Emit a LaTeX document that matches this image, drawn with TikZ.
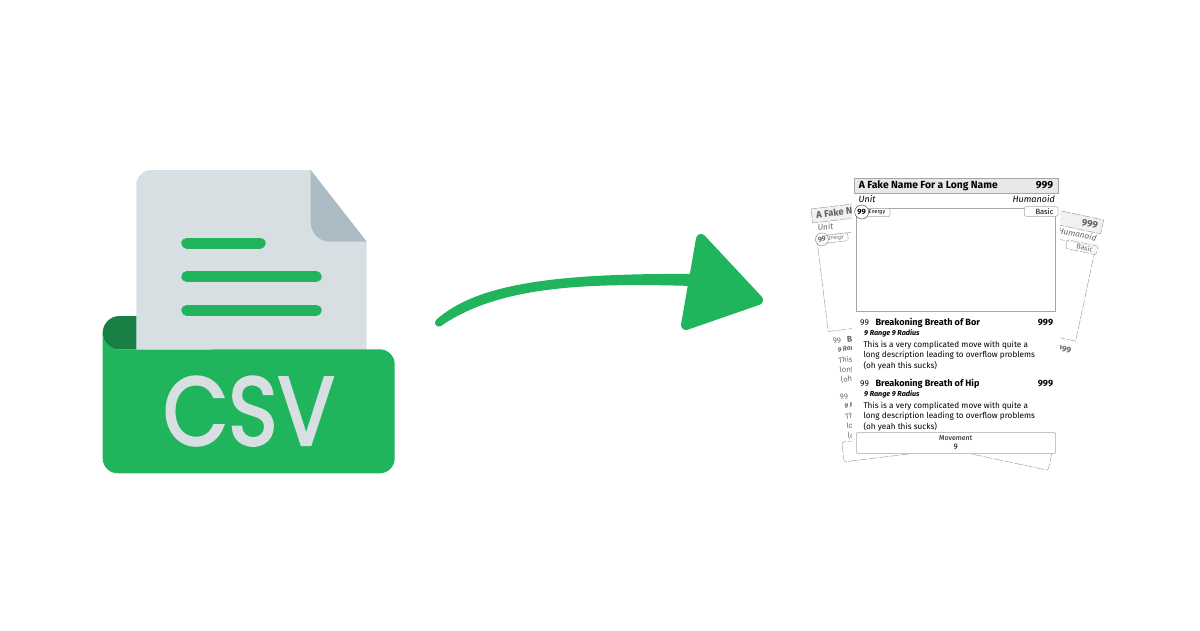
\documentclass[tikz,border=0pt]{standalone}
\usepackage{fontspec}
\setmainfont{Fira Sans}
\newfontfamily\csvfont[FakeBold=2.5]{Poppins}
\definecolor{csvgreen}{HTML}{20B55C}
\definecolor{csvdark}{HTML}{197F45}
\definecolor{pagegray}{HTML}{D8DFE3}
\definecolor{foldgray}{HTML}{ADBBC5}
\tikzset{
  lbl/.style={inner sep=0pt,anchor=base west},
  lblr/.style={inner sep=0pt,anchor=base east},
  cardline/.style={draw=black!35,line width=.5pt},
  tag/.style={cardline,rounded corners=2pt,fill=white},
  bar/.style={line width=11pt,line cap=round,csvgreen}
}
% one card, origin at the top left of its header
\newcommand{\cardbody}[1]{
  \draw [cardline,fill=black!9] (0,0) rectangle (204,15.3);
  \node [lbl,font=\bfseries\fontsize{10.3}{12}\selectfont] (#1name) at (4.7,10.8) {A Fake Name For a Long Name};
  \node [lblr,font=\bfseries\fontsize{10.3}{12}\selectfont] (#1cost) at (199.3,10.8) {999};
  \node [lbl,font=\itshape\fontsize{9}{11}\selectfont] (#1unit) at (4.5,24.2) {Unit};
  \node [lblr,font=\itshape\fontsize{9}{11}\selectfont] (#1kind) at (201,24.2) {Humanoid};
  \draw [cardline] (2.3,30.3) rectangle (201.7,133.7);
  \draw [tag] (7,30.3) rectangle (36,38.7);
  \node [inner sep=0pt,font=\itshape\fontsize{5.5}{6}\selectfont] (#1energy) at (23,34.5) {Energy};
  \node [circle,draw=black!75,fill=white,line width=.45pt,minimum size=14pt,inner sep=0pt,font=\bfseries\fontsize{7.6}{9}\selectfont] (#1pips) at (7.7,34) {99};
  \draw [tag] (170.3,28.7) rectangle (204,38.3);
  \node [inner sep=0pt,font=\fontsize{7.6}{9}\selectfont] (#1basic) at (190.5,33.5) {Basic};
  \foreach \i/\dy/\mv in {a/0/Bor,b/61/Hip} {
    \node [lbl,font=\fontsize{8.4}{10}\selectfont] (#1pts\i) at (6,147.5+\dy) {99};
    \node [lbl,font=\bfseries\fontsize{9.1}{10}\selectfont] (#1move\i) at (21.3,147.5+\dy) {Breakoning Breath of \mv};
    \node [lblr,font=\bfseries\fontsize{9.1}{10}\selectfont] (#1dmg\i) at (199.3,147.5+\dy) {999};
    \node [lbl,font=\bfseries\itshape\fontsize{7.2}{8}\selectfont] (#1rng\i) at (10,157+\dy) {9 Range 9 Radius};
    \node [inner sep=0pt,anchor=north west,align=left,font=\fontsize{8.2}{10.35}\selectfont] (#1txt\i) at (9.3,162.7+\dy) {This is a very complicated move with quite a\\long description leading to overflow problems\\(oh yeah this sucks)};
  }
  \draw [tag] (2.3,254.3) rectangle (201.7,275.7);
  \node [inner sep=0pt,anchor=base,font=\fontsize{7}{8}\selectfont] (#1mvlabel) at (101.7,262) {Movement};
  \node [inner sep=0pt,anchor=base,font=\fontsize{8}{9}\selectfont] (#1mvvalue) at (101.7,271.5) {9};
}
\begin{document}
\begin{tikzpicture}[x=1pt,y=-1pt]
\useasboundingbox (0,0) rectangle (1200,630);
% csv file
\draw [fill=pagegray,draw=none] (136.3,349.5) -- (136.3,185) arc [start angle=180,end angle=270,radius=15] -- (310.7,170) -- (366.7,241.7) -- (366.7,349.5) -- cycle;
\draw [fill=foldgray,draw=none] (310.7,170) -- (366.7,241.7) -- (330,241.7) arc [start angle=90,end angle=180,radius=19.3] -- cycle;
\draw [bar] (186.8,243) -- (260.2,243);
\draw [bar] (186.8,276.7) -- (316.2,276.7);
\draw [bar] (186.8,310.3) -- (316.2,310.3);
\draw [fill=csvdark,draw=none] (136.3,316) -- (119.5,316) arc [start angle=270,end angle=90,radius=16.8] -- (136.3,349.6) -- cycle;
\draw [fill=csvgreen,draw=none] (102.7,332.8) arc [start angle=180,end angle=90,radius=16.8] -- (379.7,349.3) arc [start angle=270,end angle=360,radius=15] -- (394.7,458.3) arc [start angle=0,end angle=90,radius=15] -- (117.7,473.3) arc [start angle=90,end angle=180,radius=15] -- cycle;
\node [inner sep=0pt,anchor=base,xscale=.87,transform shape,text=pagegray,font=\csvfont\fontsize{97}{100}\selectfont] (csv) at (248.8,445) {CSV};
% hand drawn arrow
\draw [fill=csvgreen,draw=none] (436,320) .. controls (475,285) and (550,273) .. (693,274) -- (693,286) .. controls (590,283) and (500,285) .. (441,326) .. controls (437,328) and (433,324) .. (436,320) -- cycle;
\draw [fill=csvgreen,draw=csvgreen,line width=10pt,line join=round] (701,239) -- (758,300) -- (686,325) -- cycle;
% cards behind
\begin{scope}[shift={(811,209)},rotate=7,scale=.925,transform shape,opacity=.6,cardline/.append style={draw=black!60,dash pattern=on 9pt off 1.5pt}]
\cardbody{l}
\end{scope}
\begin{scope}[shift={(918,180.5)},rotate=-12,scale=.93,transform shape,opacity=.6,cardline/.append style={draw=black!60,dash pattern=on 9pt off 1.5pt}]
\cardbody{r}
\end{scope}
\fill [white] (852,170) rectangle (1059.5,454);
% card in front
\begin{scope}[shift={(854,178)}]
\cardbody{f}
\end{scope}
\end{tikzpicture}
\end{document}
